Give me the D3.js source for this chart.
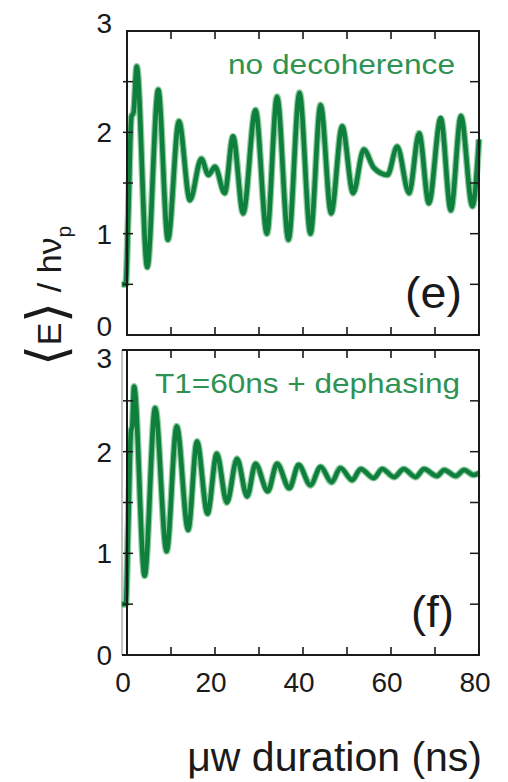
<!DOCTYPE html>
<html>
<head>
<meta charset="utf-8">
<script src="https://cdn.jsdelivr.net/npm/d3@7"></script>
<style>
  html, body { margin: 0; padding: 0; background: #fff; }
  svg { display: block; font-family: "Liberation Sans", Arial, sans-serif; }
</style>
</head>
<body>
<svg id="chart" width="508" height="782"></svg>
<script>
// Mean photon energy <E>/hν_p vs microwave pulse duration (ns)
// Panel (e): no decoherence
const timeE = [-1.2, -0.3, 0.3, 1.0, 1.5, 2.2, 4.6, 7.1, 9.3, 11.8, 14.3, 16.9, 18.5, 20.0, 22.2,
  24.1, 26.4, 29.2, 31.8, 34.1, 36.7, 39.2, 41.7, 44.0, 46.4, 48.9, 51.4, 53.8, 56.1, 59.2,
  61.4, 64.1, 66.4, 68.6, 71.3, 73.6, 75.9, 78.5, 80.0];
const energyE = [0.5, 0.5, 1.2, 2.15, 2.2, 2.65, 0.67, 2.42, 0.94, 2.11, 1.33, 1.74, 1.58, 1.66, 1.40,
  1.96, 1.20, 2.22, 1.00, 2.35, 0.94, 2.39, 1.00, 2.27, 1.20, 2.06, 1.40, 1.83, 1.65, 1.58,
  1.86, 1.40, 1.99, 1.30, 2.14, 1.23, 2.16, 1.27, 1.93];

// Panel (f): T1 = 60 ns + dephasing
const timeF = [-1.2, -0.3, 0.3, 0.9, 1.2, 1.6, 4.0, 6.4, 9.0, 11.3, 13.9, 15.9, 18.3, 20.4, 22.7,
  25.0, 27.3, 29.2, 32.0, 34.1, 36.9, 39.0, 41.7, 44.0, 46.5, 48.5, 51.2, 53.1, 56.1, 58.0,
  60.7, 62.9, 65.6, 67.5, 70.4, 72.1, 74.7, 76.6, 78.8, 80.0];
const energyF = [0.5, 0.5, 1.3, 2.2, 2.25, 2.64, 0.78, 2.43, 1.02, 2.25, 1.23, 2.10, 1.39, 1.98, 1.50,
  1.93, 1.56, 1.88, 1.61, 1.88, 1.64, 1.87, 1.67, 1.85, 1.70, 1.84, 1.72, 1.83, 1.74, 1.83,
  1.75, 1.83, 1.75, 1.83, 1.76, 1.82, 1.76, 1.82, 1.77, 1.79];

const xTickValues = [0, 10, 20, 30, 40, 50, 60, 70, 80];
const xLabelValues = [0, 20, 40, 60, 80];
const yTickValues = [0, 0.5, 1, 1.5, 2, 2.5, 3];
const yLabelValues = [0, 1, 2, 3];

const panelNames = ["no decoherence", "T1=60ns + dephasing"];
const panelTags = ["(e)", "(f)"];

const svg = d3.select("#chart");
const ink = "#1a1a1a";
const lineGreen = "#0e7f3c";
const textGreen = "#2e9352";

const x = d3.scaleLinear().domain([0, 80]).range([127, 479]);

const panels = [
  { t: timeE, e: energyE, y: d3.scaleLinear().domain([0, 3]).range([335, 31]),
    name: panelNames[0], tag: panelTags[0], labelNudge: { 3: -8, 0: -9 },
    nameAt: [228, 74, 27, 227], tagAt: [405, 308, 44, 57] },
  { t: timeF, e: energyF, y: d3.scaleLinear().domain([0, 3]).range([655, 350]),
    name: panelNames[1], tag: panelTags[1], labelNudge: { 3: 8 },
    nameAt: [155, 393, 28, 305], tagAt: [411, 627, 45, 43] }
];

panels.forEach((p, i) => {
  const g = svg.append("g");
  const [y0, y1] = p.y.range();

  if (i === 1) {
    // faint secondary left edge on the lower frame
    g.append("line").attr("x1", 122).attr("x2", 122).attr("y1", y1).attr("y2", y0)
      .attr("stroke", "#b0b0b0").attr("stroke-width", 1.5);
    g.append("line").attr("x1", 122).attr("x2", 127).attr("y1", y1).attr("y2", y1)
      .attr("stroke", ink).attr("stroke-width", 2);
    g.append("line").attr("x1", 122).attr("x2", 127).attr("y1", y0).attr("y2", y0)
      .attr("stroke", ink).attr("stroke-width", 2);
  }

  // data curve
  const line = d3.line()
    .x((d, k) => x(p.t[k]))
    .y(d => p.y(d))
    .curve(d3.curveMonotoneX);
  g.append("path").datum(p.e).attr("d", line)
    .attr("fill", "none").attr("stroke", "#6dbb83").attr("stroke-width", 7)
    .attr("stroke-linejoin", "round").attr("opacity", 0.75);
  g.append("path").datum(p.e).attr("d", line)
    .attr("fill", "none").attr("stroke", lineGreen).attr("stroke-width", 4.6)
    .attr("stroke-linejoin", "round");

  // frame
  g.append("rect").attr("x", x(0)).attr("y", y1)
    .attr("width", x(80) - x(0)).attr("height", y0 - y1)
    .attr("fill", "none").attr("stroke", ink).attr("stroke-width", 2);

  // x ticks (inside, top and bottom)
  const innerX = xTickValues.filter(v => v > 0 && v < 80);
  g.selectAll(".xtb").data(innerX).join("line")
    .attr("x1", d => x(d)).attr("x2", d => x(d))
    .attr("y1", y0).attr("y2", y0 - 8)
    .attr("stroke", ink).attr("stroke-width", 1.6);
  g.selectAll(".xtt").data(innerX).join("line")
    .attr("x1", d => x(d)).attr("x2", d => x(d))
    .attr("y1", y1).attr("y2", y1 + 8)
    .attr("stroke", ink).attr("stroke-width", 1.6);

  // y ticks (left crossing, right inside)
  const innerY = yTickValues.filter(v => v > 0 && v < 3);
  g.selectAll(".ytl").data(innerY).join("line")
    .attr("x1", x(0) - 4).attr("x2", x(0) + 6)
    .attr("y1", d => p.y(d)).attr("y2", d => p.y(d))
    .attr("stroke", ink).attr("stroke-width", 1.5);
  g.selectAll(".ytr").data(innerY).join("line")
    .attr("x1", x(80) - 9).attr("x2", x(80) + 1)
    .attr("y1", d => p.y(d)).attr("y2", d => p.y(d))
    .attr("stroke", ink).attr("stroke-width", 1.5);

  // y tick labels
  g.selectAll(".yl").data(yLabelValues).join("text")
    .attr("x", 112)
    .attr("y", d => p.y(d) + (p.labelNudge[d] || 0))
    .attr("dy", "0.36em")
    .attr("text-anchor", "end")
    .attr("font-size", 28)
    .attr("fill", ink)
    .text(d => d);

  // panel annotation
  g.append("text")
    .attr("x", p.nameAt[0]).attr("y", p.nameAt[1])
    .attr("font-size", p.nameAt[2])
    .attr("textLength", p.nameAt[3]).attr("lengthAdjust", "spacingAndGlyphs")
    .attr("fill", textGreen)
    .text(p.name);

  // panel tag
  g.append("text")
    .attr("x", p.tagAt[0]).attr("y", p.tagAt[1])
    .attr("font-size", p.tagAt[2])
    .attr("textLength", p.tagAt[3]).attr("lengthAdjust", "spacingAndGlyphs")
    .attr("fill", ink)
    .text(p.tag);
});

// x tick labels under the lower panel
svg.selectAll(".xl").data(xLabelValues).join("text")
  .attr("x", d => x(d) - 4)
  .attr("y", 692)
  .attr("text-anchor", "middle")
  .attr("font-size", 28)
  .attr("fill", ink)
  .text(d => d);

// x axis title
svg.append("text")
  .attr("x", 482).attr("y", 771)
  .attr("text-anchor", "end")
  .attr("font-size", 41)
  .attr("fill", ink)
  .text("μw duration (ns)");

// y axis title
const yt = svg.append("text")
  .attr("transform", "translate(61,296) rotate(-90)")
  .attr("text-anchor", "middle")
  .attr("font-size", 34)
  .attr("fill", ink);
yt.append("tspan").attr("font-family", "DejaVu Sans").attr("font-size", 54).attr("font-weight", 200).attr("dy", 4).text("⟨");
yt.append("tspan").attr("dy", -4).text("E");
yt.append("tspan").attr("font-family", "DejaVu Sans").attr("font-size", 54).attr("font-weight", 200).attr("dy", 4).text("⟩");
yt.append("tspan").attr("dy", -4).text(" / hν");
yt.append("tspan").attr("font-size", 21).attr("dy", 10).text("p");
</script>
</body>
</html>
